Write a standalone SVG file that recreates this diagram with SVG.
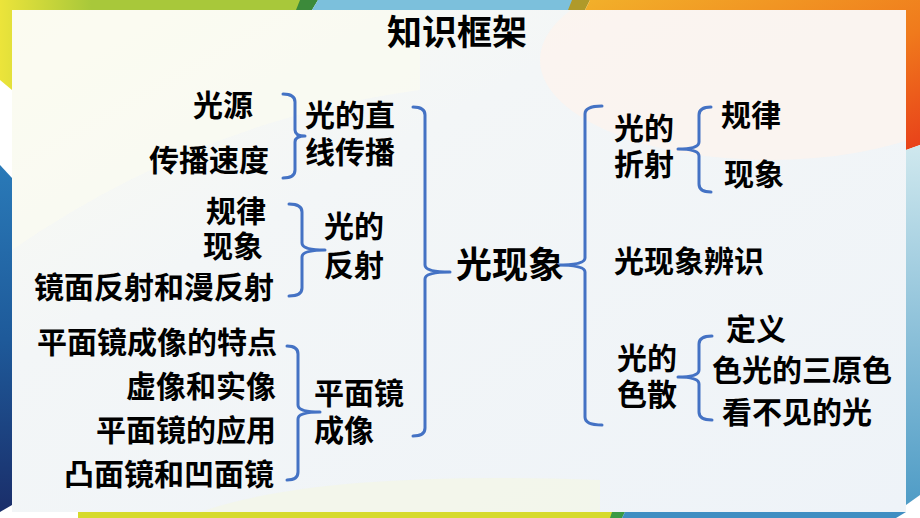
<svg xmlns="http://www.w3.org/2000/svg" width="920" height="518" viewBox="0 0 920 518">
<defs>
<style>
.t{font-family:"Noto Sans CJK SC","Noto Sans CJK JP",sans-serif;font-weight:700;font-size:30px;fill:#000}
.big{font-size:36px}
.title{font-size:35px}
.br{fill:none;stroke:#4472c4;stroke-width:3;stroke-linejoin:round;stroke-linecap:round}
</style>
<clipPath id="panelClip"><rect x="12" y="10" width="894" height="502"/></clipPath>
<linearGradient id="gTop" x1="0" y1="0" x2="1" y2="0">
<stop offset="0" stop-color="#ece43a"/><stop offset="0.3" stop-color="#a8c83a"/>
</linearGradient>
<linearGradient id="gOr" x1="0" y1="0" x2="1" y2="1">
<stop offset="0" stop-color="#f2b02a"/><stop offset="0.6" stop-color="#f07a1c"/><stop offset="1" stop-color="#e8401a"/>
</linearGradient>
<linearGradient id="gLeft" x1="0" y1="0" x2="0" y2="1">
<stop offset="0" stop-color="#2a7ab8"/><stop offset="0.5" stop-color="#1e5a9a"/><stop offset="1" stop-color="#1a2e6a"/>
</linearGradient>
<linearGradient id="gRight" x1="0" y1="0" x2="0" y2="1">
<stop offset="0" stop-color="#cfe8ee"/><stop offset="1" stop-color="#4f9cc6"/>
</linearGradient>
<linearGradient id="gPanel" x1="0" y1="0" x2="1" y2="1">
<stop offset="0" stop-color="#fbfbf1"/><stop offset="0.35" stop-color="#f3f6f7"/><stop offset="1" stop-color="#eef3f8"/>
</linearGradient>
</defs>
<g id="background">
<rect x="0" y="0" width="920" height="518" fill="#ffffff"/>
<polygon points="0,0 305,0 300,10 12,10 12,90 0,80" fill="url(#gTop)"/>
<polygon points="300,0 318,0 312,10 296,10" fill="#3c8a3a"/>
<polygon points="318,0 578,0 572,10 312,10" fill="#7cc0dc"/>
<polygon points="572,0 590,0 585,10 568,10" fill="#b09a2a"/>
<polygon points="590,0 920,0 920,145 906,150 906,10 585,10" fill="url(#gOr)"/>
<polygon points="906,150 920,145 920,495 906,505" fill="url(#gRight)"/>
<polygon points="0,165 12,178 12,505 0,512" fill="url(#gLeft)"/>
<polygon points="78,512 612,512 612,518 78,518" fill="#d6da2c"/>
<polygon points="612,512 625,512 622,518 610,518" fill="#3a9a44"/>
<polygon points="625,512 906,512 896,518 622,518" fill="#3f8ec2"/>
<rect x="12" y="10" width="894" height="502" fill="url(#gPanel)"/>
<g clip-path="url(#panelClip)">
<ellipse cx="770" cy="60" rx="230" ry="100" fill="#fdf3ec" opacity="0.7"/>
<path d="M12,250 Q200,120 420,90 L420,10 L12,10 Z" fill="#fbfbf0" opacity="0.6"/>
<path d="M200,512 Q320,470 600,480 L600,512 Z" fill="#f4f6e6" opacity="0.7"/>
</g>
</g>
<g id="connectors">
<path class="br" d="M283,94 Q295,94 295,102 V130 Q295,136 305,136 Q295,136 295,142 V170 Q295,178 283,178"/>
<path class="br" d="M289,204 Q302,204 302,212 V243 Q302,250 325,250 Q302,250 302,257 V288 Q302,296 289,296"/>
<path class="br" d="M287,346 Q298,346 298,354 V405 Q298,412 320,412 Q298,412 298,419 V472 Q298,480 287,480"/>
<path class="br" d="M413,107 Q425,107 425,115 V265 Q425,272 450,272 Q425,272 425,279 V428 Q425,436 413,436"/>
<path class="br" d="M602,106 Q585,106 585,114 V258 Q585,265 557,265 Q585,265 585,272 V417 Q585,425 602,425"/>
<path class="br" d="M711,107 Q699,107 699,115 V142 Q699,149 678,149 Q699,149 699,156 V184 Q699,192 711,192"/>
<path class="br" d="M712,336 Q699,336 699,344 V370 Q699,377 678,377 Q699,377 699,384 V412 Q699,420 712,420"/>
</g>
<g id="title"><text class="t title" x="387" y="45">知识框架</text></g>
<g id="n-root"><text class="t big" x="456" y="278">光现象</text></g>
<g id="n-zhixian"><text class="t" x="305" y="126">光的直</text><text class="t" x="305" y="163">线传播</text></g>
<g id="n-guangyuan"><text class="t" x="193" y="116">光源</text></g>
<g id="n-sudu"><text class="t" x="149" y="171">传播速度</text></g>
<g id="n-fanshe"><text class="t" x="324" y="237">光的</text><text class="t" x="324" y="276">反射</text></g>
<g id="n-guilv-l"><text class="t" x="206" y="222">规律</text></g>
<g id="n-xianxiang-l"><text class="t" x="203" y="257">现象</text></g>
<g id="n-jingmian"><text class="t" x="34" y="298">镜面反射和漫反射</text></g>
<g id="n-pingmian"><text class="t" x="314" y="404">平面镜</text><text class="t" x="314" y="441">成像</text></g>
<g id="n-tedian"><text class="t" x="37" y="353">平面镜成像的特点</text></g>
<g id="n-xuxiang"><text class="t" x="126" y="397">虚像和实像</text></g>
<g id="n-yingyong"><text class="t" x="96" y="441">平面镜的应用</text></g>
<g id="n-tuao"><text class="t" x="64" y="485">凸面镜和凹面镜</text></g>
<g id="n-zheshe"><text class="t" x="614" y="139">光的</text><text class="t" x="614" y="175">折射</text></g>
<g id="n-guilv-r"><text class="t" x="721" y="126">规律</text></g>
<g id="n-xianxiang-r"><text class="t" x="724" y="185">现象</text></g>
<g id="n-bianshi"><text class="t" x="614" y="272">光现象辨识</text></g>
<g id="n-sesan"><text class="t" x="617" y="369">光的</text><text class="t" x="617" y="405">色散</text></g>
<g id="n-dingyi"><text class="t" x="726" y="340">定义</text></g>
<g id="n-sanyuanse"><text class="t" x="712" y="381">色光的三原色</text></g>
<g id="n-kanbujian"><text class="t" x="722" y="423">看不见的光</text></g>
</svg>
